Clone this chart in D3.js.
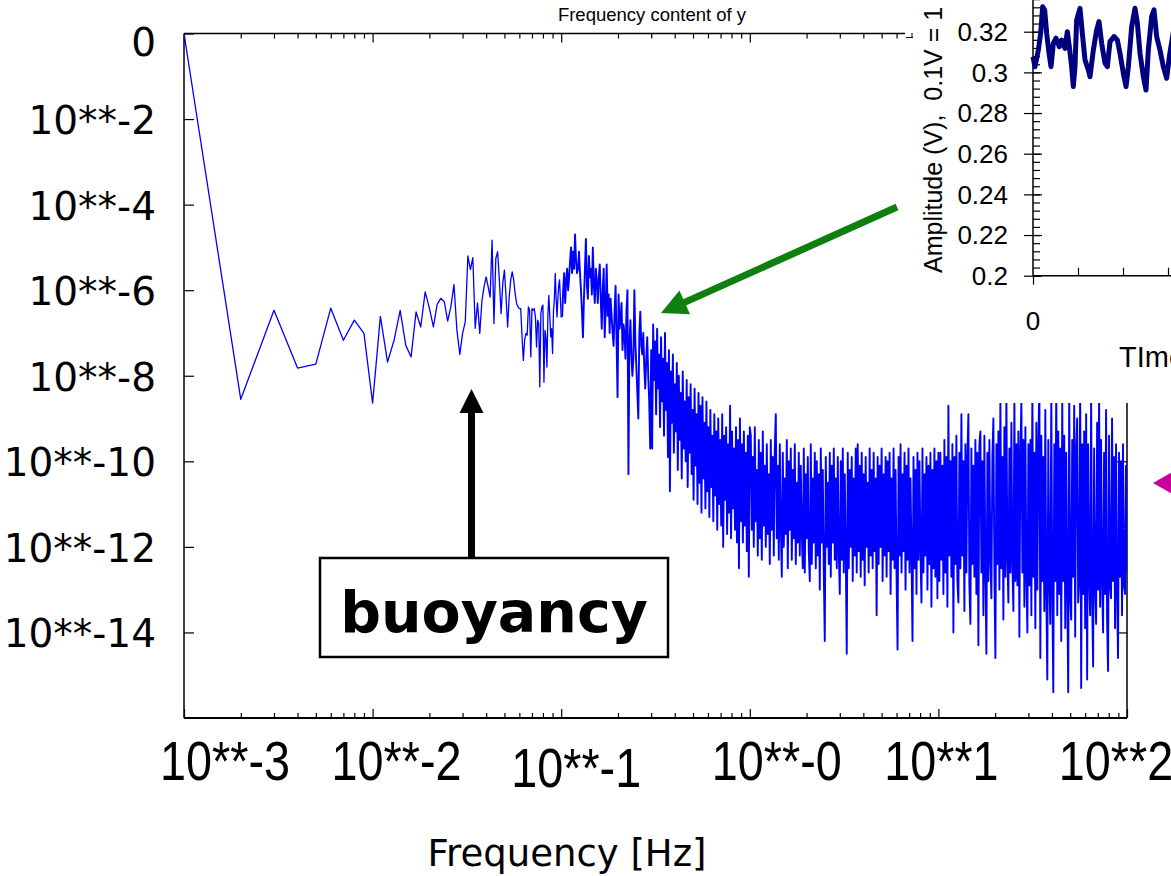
<!DOCTYPE html>
<html>
<head>
<meta charset="utf-8">
<script src="https://cdn.jsdelivr.net/npm/d3@7"></script>
<style>
  body { margin: 0; background: #fff; }
  svg { display: block; }
</style>
</head>
<body>
<svg id="chart"></svg>
<script>
// log10 amplitude of the first 100 FFT bins (f = k mHz, k = 1..100)
const lowBinAmp = [
  0, -8.55, -6.47, -7.82, -7.73, -6.42, -7.17, -6.70, -7.01, -8.64,
  -6.61, -7.68, -7.17, -6.47, -7.29, -7.56, -6.51, -6.86, -6.04, -6.42,
  -6.86, -6.33, -6.19, -6.27, -6.72, -6.39, -5.87, -6.94, -7.50, -7.01,
  -6.74, -5.20, -5.52, -5.24, -6.89, -6.30, -7.01, -6.24, -5.92, -5.69,
  -5.92, -6.16, -4.83, -6.78, -5.26, -5.10, -5.76, -6.55, -5.84, -5.53,
  -6.16, -6.86, -6.16, -5.76, -5.57, -5.76, -6.08, -6.31, -6.39, -6.43,
  -6.43, -7.09, -7.64, -7.17, -7.01, -7.05, -6.39, -6.47, -7.56, -6.43,
  -6.47, -6.43, -6.63, -7.33, -6.70, -6.78, -8.26, -6.55, -6.39, -6.35,
  -8.15, -6.94, -7.10, -7.80, -6.60, -6.12, -6.60, -7.09, -6.90, -7.48,
  -6.50, -6.20, -5.61, -6.20, -6.63, -6.20, -5.90, -5.76, -6.20, -6.63
]

// above 0.1 Hz the bins are too dense to read one by one:
// log10 amplitudes read along each band, spread evenly (in log f) between its edges
const bandEdges = [0.1, 0.3, 1, 3, 10, 30, 100]

const band1 = [
  -6.6, -6.0, -5.6, -6.3, -5.8, -5.5, -6.0, -5.7, -5.3, -5.0,
  -5.6, -5.1, -5.5, -4.7, -5.3, -5.6, -5.5, -5.1, -5.6, -6.0,
  -6.5, -7.1, -6.2, -5.5, -4.8, -5.9, -6.2, -5.2, -5.7, -5.5,
  -6.1, -5.0, -5.9, -6.3, -5.5, -5.8, -6.3, -5.7, -5.4, -6.2,
  -6.9, -6.0, -5.5, -7.1, -6.4, -5.4, -6.6, -6.1, -7.0, -6.2,
  -6.6, -7.0, -7.3, -6.5, -5.9, -7.2, -8.5, -6.1, -6.9, -6.7,
  -6.3, -7.4, -6.8, -7.0, -7.6, -6.5, -6.0, -10.3, -7.2, -6.7,
  -7.5, -8.0, -7.6, -6.0, -7.2, -7.8, -8.4, -9.0, -7.0, -6.5,
  -7.3, -7.5, -7.0, -7.8, -8.3, -7.6, -7.1, -8.0, -8.6, -9.7,
  -7.4
]
const band2 = [
  -9.7, -6.8, -8.1, -7.2, -8.9, -6.9, -8.3, -7.5, -9.2, -7.1,
  -8.6, -7.6, -9.4, -7.0, -8.8, -7.7, -9.9, -7.4, -10.7, -7.9,
  -9.1, -7.5, -9.8, -8.2, -9.3, -7.7, -10.2, -8.0, -9.5, -8.4,
  -10.4, -7.9, -9.7, -8.6, -10.0, -8.1, -10.6, -8.5, -9.8, -8.2,
  -10.3, -8.8, -10.9, -8.3, -10.1, -8.9, -11.0, -8.4, -10.5, -8.7,
  -11.2, -8.5, -10.4, -9.1, -11.1, -8.6, -10.7, -9.2, -11.3, -8.8,
  -10.6, -9.4, -11.4, -8.9, -10.8, -9.3, -11.6, -9.0, -11.0, -9.5,
  -11.5, -8.9, -12.0, -9.4, -10.9, -9.2, -11.7, -9.6, -11.2, -8.7,
  -11.8, -9.3, -11.1, -9.7, -11.6, -9.2, -11.9, -9.5, -12.5, -9.0,
  -11.4, -9.6, -11.9, -9.3, -11.5, -9.8, -12.1, -9.4, -12.7, -9.2
]
const band3 = [
  -9.4, -11.6, -9.9, -12.0, -9.2, -11.4, -10.2, -12.2, -9.5, -11.8,
  -9.8, -12.3, -9.3, -11.5, -10.1, -12.0, -9.6, -11.7, -10.3, -12.4,
  -9.5, -11.6, -9.9, -12.2, -9.7, -8.9, -11.8, -10.1, -12.3, -9.6,
  -11.5, -12.7, -9.8, -12.0, -10.4, -11.7, -9.5, -12.5, -10.0, -11.6,
  -9.7, -12.3, -10.2, -11.8, -9.6, -12.4, -10.5, -11.9, -9.8, -12.2,
  -10.1, -11.7, -12.5, -9.7, -12.6, -10.3, -11.8, -9.9, -12.1, -12.8,
  -9.6, -12.4, -10.4, -11.9, -9.8, -12.5, -10.0, -12.2, -10.3, -13.0,
  -9.7, -11.9, -10.2, -12.6, -14.2, -9.9, -12.0, -10.5, -12.4, -9.8,
  -12.7, -10.1, -11.9, -9.7, -12.3, -10.4, -12.5, -9.9, -12.1, -13.1
]
const band4 = [
  -10.0, -12.3, -9.7, -12.6, -10.3, -12.1, -14.5, -9.8, -12.5, -10.2,
  -12.0, -9.9, -12.8, -10.4, -12.2, -9.7, -12.6, -9.6, -12.1, -10.1,
  -12.7, -9.8, -12.3, -10.3, -12.9, -9.9, -12.0, -10.5, -12.6, -9.7,
  -12.2, -10.2, -12.5, -9.8, -12.1, -10.4, -13.6, -9.9, -12.4, -10.1,
  -12.0, -9.7, -12.8, -10.3, -12.2, -9.9, -12.7, -10.0, -12.1, -9.8,
  -13.1, -10.4, -12.3, -9.7, -12.5, -10.2, -12.7, -14.4, -9.9, -12.2,
  -9.6, -12.6, -10.3, -12.1, -9.8, -13.0, -10.1, -12.3, -9.7, -12.6,
  -10.4, -12.2, -14.2, -9.9, -12.5, -10.2, -13.1, -9.8, -12.3, -10.0,
  -12.1, -13.3, -9.7, -12.6, -10.3, -12.2, -9.9, -13.0, -10.1, -12.4,
  -9.8, -13.4, -10.2, -12.5, -9.7, -12.7, -10.0, -13.2, -9.8
]
const band5 = [
  -12.8, -9.8, -12.3, -10.1, -13.1, -9.5, -12.6, -9.9, -13.4, -8.7,
  -12.2, -10.0, -12.7, -9.6, -14.0, -9.9, -12.4, -9.4, -12.8, -13.3,
  -9.8, -12.5, -8.9, -12.2, -10.0, -13.5, -9.6, -12.6, -9.9, -8.9,
  -12.9, -13.8, -9.7, -12.4, -10.1, -12.7, -9.5, -13.1, -9.8, -14.3,
  -9.6, -9.3, -12.6, -10.0, -13.6, -9.4, -12.5, -14.5, -9.8, -12.8,
  -9.5, -12.3, -13.2, -9.9, -9.0, -12.6, -14.6, -9.6, -12.4, -9.3,
  -13.0, -8.5, -12.5, -9.9, -13.7, -9.2, -12.7, -8.4, -12.3, -13.3,
  -9.7, -12.6, -9.1, -12.4, -13.5, -8.5, -12.8, -9.6, -12.9, -9.3,
  -14.1, -9.8, -8.6, -12.6, -9.5, -13.4, -9.2, -12.7, -14.0, -9.6
]
const band6 = [
  -12.9, -9.5, -13.6, -8.3, -12.7, -9.8, -13.9, -9.1, -13.0, -9.6,
  -8.2, -14.6, -9.4, -12.8, -9.9, -13.5, -8.8, -13.1, -15.1, -9.5,
  -12.7, -13.8, -8.4, -13.0, -15.4, -9.6, -12.8, -8.1, -13.6, -9.3,
  -13.1, -9.7, -14.2, -8.6, -12.8, -9.4, -13.9, -9.8, -12.9, -15.4,
  -8.3, -13.2, -13.7, -9.5, -12.7, -8.7, -14.1, -9.7, -9.0, -13.3,
  -12.8, -8.2, -15.3, -9.6, -13.1, -9.3, -13.9, -8.9, -15.1, -9.6,
  -12.7, -13.6, -8.5, -13.2, -14.8, -9.7, -12.9, -13.8, -9.1, -13.0,
  -8.4, -13.4, -9.5, -12.8, -14.0, -9.8, -13.1, -8.8, -13.7, -14.9,
  -9.4, -12.9, -13.2, -9.0, -12.8, -9.9, -13.9, -9.6, -13.0, -14.6,
  -9.8, -12.7, -10.0, -13.6, -9.6, -12.9, -13.1, -10.1, -12.6
]

const xTickExp = [-3, -2, -1, 0, 1, 2]
const xTickLabels = ['10**-3', '10**-2', '10**-1', '10**-0', '10**1', '10**2']
const yTickExp = [0, -2, -4, -6, -8, -10, -12, -14]
const yTickLabels = ['0', '10**-2', '10**-4', '10**-6', '10**-8', '10**-10', '10**-12', '10**-14']

// inset: raw signal (time in plot units, amplitude in volts)
const insetT = [0, 0.44, 1.19, 1.70, 2.15, 2.59, 3.04, 3.56, 4.0, 4.52, 5.11, 5.85, 6.37, 7.11,
  7.63, 8.07, 8.59, 8.96, 9.33, 9.70, 10.44, 10.96, 11.56, 12.30, 12.67, 13.41, 14.15, 14.67,
  15.26, 16.0, 16.52, 17.11, 18.0, 18.74, 19.33, 20.07, 20.67, 21.19, 21.93, 22.67, 23.19,
  23.78, 24.52, 25.11, 25.63, 26.37, 26.89, 27.48, 28.22, 28.96, 29.70, 30.30, 31.2]
const insetV = [0.3077, 0.3028, 0.3110, 0.3192, 0.3323, 0.3307, 0.3192, 0.3094, 0.3028, 0.3143,
  0.3168, 0.3126, 0.3159, 0.3118, 0.3200, 0.3126, 0.3028, 0.2930, 0.3028, 0.3258, 0.3315,
  0.3192, 0.3061, 0.3012, 0.2979, 0.3110, 0.3209, 0.3250, 0.3143, 0.3045, 0.3028, 0.3151,
  0.3176, 0.3159, 0.3094, 0.2996, 0.2930, 0.3028, 0.3225, 0.3315, 0.3242, 0.3094, 0.2979,
  0.2913, 0.3110, 0.3274, 0.3307, 0.3176, 0.3110, 0.3028, 0.2971, 0.3077, 0.3200]
const insetYTicks = [0.2, 0.22, 0.24, 0.26, 0.28, 0.3, 0.32, 0.34]
const insetXTicks = [0, 50]

// layout
const W = 1171
const H = 876
const plot = { left: 184, right: 1127, top: 33.5, bottom: 718 }
const inset = { left: 1033, top: 31.7, bottom: 275.7, boxLeft: 905, boxBottom: 403 }
const xLabelShift = [41, 24, 15, 27, 3, -11]
const xLabelDrop = [0, 0, 7, 0, 0, 0]
const labelFont = "'DejaVu Sans', Verdana, sans-serif"
const arialFont = "'Liberation Sans', Arial, sans-serif"

const svg = d3.select('#chart').attr('width', W).attr('height', H)

const x = d3.scaleLog().domain([1e-3, 100]).range([plot.left, plot.right])
const y = d3.scaleLog().domain([1e-16, 1]).range([plot.bottom, plot.top])

// assemble the spectrum
const lowBins = lowBinAmp.map((v, i) => ({ f: (i + 1) / 1000, a: Math.pow(10, v) }))
const denseBins = [lowBins[lowBins.length - 1]]
const bands = [band1, band2, band3, band4, band5, band6]
bands.forEach((vals, b) => {
  const f0 = bandEdges[b]
  const f1 = bandEdges[b + 1]
  vals.forEach((v, i) => {
    denseBins.push({ f: f0 * Math.pow(f1 / f0, (i + 1) / vals.length), a: Math.pow(10, v) })
  })
})

// ticks
const majorX = xTickExp.map(e => Math.pow(10, e))
const minorX = d3.merge(xTickExp.slice(0, -1).map(e => d3.range(2, 10).map(m => m * Math.pow(10, e))))
const majorY = yTickExp.map(e => Math.pow(10, e))

function tickStyle (g) {
  g.select('.domain').remove()
  g.selectAll('.tick line').attr('stroke', '#000').attr('stroke-width', 1.2)
  g.selectAll('.tick text').remove()
}

svg.append('g').attr('transform', `translate(0,${plot.bottom})`)
  .call(d3.axisTop(x).tickValues(majorX).tickSize(9).tickFormat('')).call(tickStyle)
svg.append('g').attr('transform', `translate(0,${plot.bottom})`)
  .call(d3.axisTop(x).tickValues(minorX).tickSize(5).tickFormat('')).call(tickStyle)
svg.append('g').attr('transform', `translate(0,${plot.top})`)
  .call(d3.axisBottom(x).tickValues(majorX).tickSize(9).tickFormat('')).call(tickStyle)
svg.append('g').attr('transform', `translate(0,${plot.top})`)
  .call(d3.axisBottom(x).tickValues(minorX).tickSize(5).tickFormat('')).call(tickStyle)
svg.append('g').attr('transform', `translate(${plot.left},0)`)
  .call(d3.axisRight(y).tickValues(majorY).tickSize(10).tickFormat('')).call(tickStyle)
svg.append('g').attr('transform', `translate(${plot.right},0)`)
  .call(d3.axisLeft(y).tickValues(majorY).tickSize(10).tickFormat('')).call(tickStyle)

// frame
const frame = svg.append('g').attr('stroke', '#000').attr('fill', 'none')
frame.append('line').attr('x1', x.range()[0]).attr('x2', x.range()[1])
  .attr('y1', y.range()[0]).attr('y2', y.range()[0]).attr('stroke-width', 2)
frame.append('line').attr('x1', x.range()[0]).attr('x2', x.range()[1])
  .attr('y1', y.range()[1]).attr('y2', y.range()[1]).attr('stroke-width', 1.5)
frame.append('line').attr('x1', x.range()[0]).attr('x2', x.range()[0])
  .attr('y1', y.range()[0]).attr('y2', y.range()[1]).attr('stroke-width', 1.5)
frame.append('line').attr('x1', x.range()[1]).attr('x2', x.range()[1])
  .attr('y1', y.range()[0]).attr('y2', y.range()[1]).attr('stroke-width', 1.5)

// spectrum line
svg.append('clipPath').attr('id', 'plotclip').append('rect')
  .attr('x', plot.left).attr('y', plot.top)
  .attr('width', plot.right - plot.left).attr('height', plot.bottom - plot.top)

const line = d3.line().x(d => x(d.f)).y(d => y(d.a))
const spec = svg.append('g')
  .attr('clip-path', 'url(#plotclip)')
  .attr('fill', 'none')
  .attr('stroke', '#0000ff')
  .attr('stroke-linejoin', 'round')
spec.append('path').datum(lowBins).attr('d', line).attr('stroke-width', 1.3)
spec.append('path').datum(denseBins).attr('d', line).attr('stroke-width', 1.9)

// title
svg.append('text')
  .attr('x', 652).attr('y', 21)
  .attr('text-anchor', 'middle')
  .style('font-family', arialFont).style('font-size', '18.5px')
  .text('Frequency content of y')

// axis labels
svg.append('g').selectAll('text')
  .data(yTickExp)
  .join('text')
  .attr('x', 156)
  .attr('y', (d, i) => y(Math.pow(10, d)) + (i === 0 ? 8 : 1))
  .attr('dy', '0.36em')
  .attr('text-anchor', 'end')
  .style('font-family', labelFont).style('font-size', '39px')
  .text((d, i) => yTickLabels[i])

svg.append('g').selectAll('text')
  .data(xTickExp)
  .join('text')
  .attr('transform', (d, i) =>
    `translate(${x(Math.pow(10, d)) + xLabelShift[i]},${780 + xLabelDrop[i]}) scale(0.835,1)`)
  .attr('text-anchor', 'middle')
  .style('font-family', arialFont).style('font-size', '56px')
  .text((d, i) => xTickLabels[i])

svg.append('text')
  .attr('x', 567).attr('y', 866)
  .attr('text-anchor', 'middle')
  .style('font-family', labelFont).style('font-size', '37px')
  .text('Frequency [Hz]')

// buoyancy annotation
svg.append('rect')
  .attr('x', 320).attr('y', 558).attr('width', 348).attr('height', 99)
  .attr('fill', '#fff').attr('stroke', '#000').attr('stroke-width', 2.5)
svg.append('text')
  .attr('x', 494).attr('y', 632)
  .attr('text-anchor', 'middle')
  .style('font-family', labelFont).style('font-size', '57px').style('font-weight', 'bold')
  .text('buoyancy')

function arrow (x0, y0, x1, y1, color, width, headLen, headHalf) {
  const len = Math.hypot(x1 - x0, y1 - y0)
  const ux = (x1 - x0) / len
  const uy = (y1 - y0) / len
  const bx = x1 - ux * headLen
  const by = y1 - uy * headLen
  svg.append('line')
    .attr('x1', x0).attr('y1', y0).attr('x2', bx + ux * 2).attr('y2', by + uy * 2)
    .attr('stroke', color).attr('stroke-width', width)
  svg.append('path')
    .attr('d', `M${x1},${y1}L${bx - uy * headHalf},${by + ux * headHalf}L${bx + uy * headHalf},${by - ux * headHalf}Z`)
    .attr('fill', color)
}
arrow(471.5, 558, 471.5, 389, '#000', 7, 24, 12)

// inset panel (time signal)
const tx = d3.scaleLinear().domain([0, 50]).range([inset.left, inset.left + 225])
const ty = d3.scaleLinear().domain([0.2, 0.32]).range([inset.bottom, inset.top])

svg.append('rect')
  .attr('x', inset.boxLeft).attr('y', 0)
  .attr('width', W - inset.boxLeft).attr('height', inset.boxBottom)
  .attr('fill', '#fff')

const insetMinorY = d3.range(0.2, 0.3441, 0.004)
svg.append('g').attr('transform', `translate(${inset.left},0)`)
  .call(d3.axisRight(ty).tickValues(insetMinorY).tickSize(7).tickFormat('')).call(tickStyle)
svg.append('g').attr('transform', `translate(${inset.left},0)`)
  .call(d3.axisRight(ty).tickValues(insetYTicks).tickSize(9).tickFormat('')).call(tickStyle)
svg.append('g').attr('transform', `translate(${inset.left},0)`)
  .call(d3.axisLeft(ty).tickValues(insetYTicks).tickSize(9).tickFormat('')).call(tickStyle)
svg.append('g').attr('transform', `translate(0,${inset.bottom})`)
  .call(d3.axisTop(tx).tickValues(d3.range(10, 50, 10)).tickSize(8).tickFormat('')).call(tickStyle)
svg.append('g').attr('transform', `translate(0,${inset.bottom})`)
  .call(d3.axisBottom(tx).tickValues(insetXTicks).tickSize(9).tickFormat('')).call(tickStyle)

svg.append('line')
  .attr('x1', inset.left).attr('x2', inset.left)
  .attr('y1', inset.bottom).attr('y2', 0)
  .attr('stroke', '#000').attr('stroke-width', 1.5)
svg.append('line')
  .attr('x1', inset.left).attr('x2', W)
  .attr('y1', inset.bottom).attr('y2', inset.bottom)
  .attr('stroke', '#000').attr('stroke-width', 1.5)

const sig = insetT.map((t, i) => ({ t: t, v: insetV[i] }))
svg.append('path')
  .datum(sig)
  .attr('d', d3.line().x(d => tx(d.t)).y(d => ty(d.v)))
  .attr('fill', 'none')
  .attr('stroke', '#000080')
  .attr('stroke-width', 5)
  .attr('stroke-linejoin', 'round')

svg.append('g').selectAll('text')
  .data(insetYTicks)
  .join('text')
  .attr('x', 1008)
  .attr('y', d => ty(d))
  .attr('dy', '0.36em')
  .attr('text-anchor', 'end')
  .style('font-family', arialFont).style('font-size', '26px')
  .text(d => d3.format('.2~f')(d))

svg.append('text')
  .attr('x', tx(0)).attr('y', 330)
  .attr('text-anchor', 'middle')
  .style('font-family', arialFont).style('font-size', '26px')
  .text('0')

svg.append('text')
  .attr('x', 1119).attr('y', 367)
  .style('font-family', arialFont).style('font-size', '29px')
  .text('TIme (s)')

svg.append('text')
  .attr('transform', 'translate(942,273) rotate(-90)')
  .style('font-family', arialFont).style('font-size', '25px')
  .style('white-space', 'pre')
  .text('Amplitude (V),  0.1V = 1 cm')

svg.append('path')
  .attr('d', 'M906,37.5H913M912,33V37.5')
  .attr('stroke', '#000').attr('stroke-width', 1).attr('fill', 'none')

// pointers
arrow(897, 207, 661, 313, '#0f800f', 7, 26, 13)
svg.append('path')
  .attr('d', 'M1153,483L1176,470L1176,496Z')
  .attr('fill', '#c8009b')
</script>
</body>
</html>
